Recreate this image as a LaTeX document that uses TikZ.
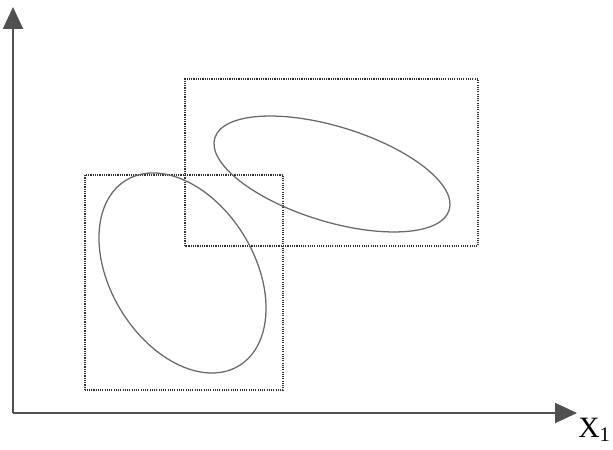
\documentclass[tikz,border=0pt]{standalone}
\usepackage{fontspec}
\setmainfont{Liberation Serif}
\usetikzlibrary{arrows.meta}
\definecolor{axisgray}{RGB}{80,80,80}
\definecolor{boxgray}{RGB}{50,50,50}
\definecolor{ellgray}{RGB}{105,105,105}

\begin{document}
\begin{tikzpicture}[
    axis/.style={draw=axisgray,line width=1.4pt,-{Triangle[length=0.55cm,width=0.5cm]}},
    dotbox/.style={draw=boxgray,line width=1.5pt,dash pattern=on 0.8pt off 0.8pt},
    cluster/.style={draw=ellgray,line width=0.9pt}
  ]
    \useasboundingbox (0,0) rectangle (15.325,11.225);

    % Axes
    \coordinate (O) at (0.325,0.9);
    \coordinate (ytip) at (0.325,11.05);
    \coordinate (xtip) at (14.425,0.9);
    \draw[axis] (O) -- (ytip);
    \draw[axis] (O) -- (xtip);
    \node[anchor=base west,inner sep=0pt,font=\fontsize{21}{25}\selectfont] (xlabel)
      at (14.45,0.3) {X\textsubscript{1}};

    % Bounding boxes (dotted)
    \draw[dotbox] (2.125,1.475) rectangle (7.075,6.85);
    \draw[dotbox] (4.625,5.075) rectangle (11.95,9.25);

    % Clusters
    \draw[cluster] (4.5625,4.4) ellipse [x radius=2.715cm,y radius=1.80cm,rotate=-58.6];
    \draw[cluster] (8.3,6.875) ellipse [x radius=3.065cm,y radius=1.1875cm,rotate=-17.1];
  \end{tikzpicture}
\end{document}
